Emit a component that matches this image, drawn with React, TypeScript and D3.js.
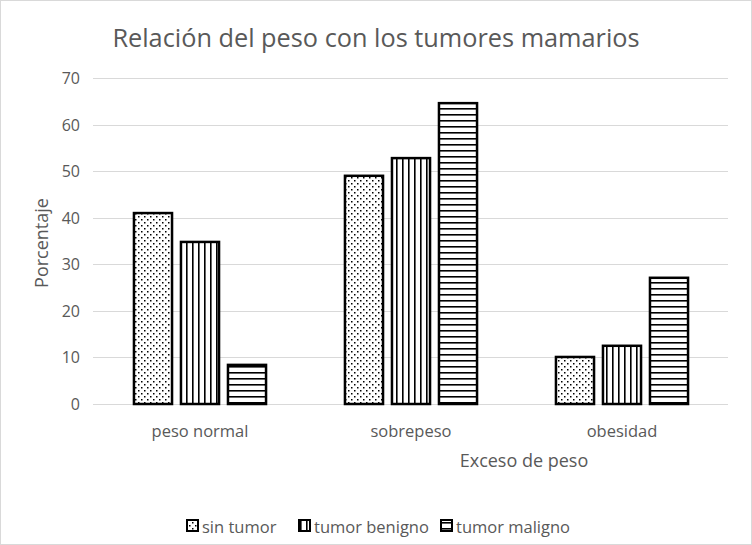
import { useRef, useEffect } from 'react';
import * as d3 from 'd3';

const categories = ['peso normal', 'sobrepeso', 'obesidad'];
const seriesNames = ['sin tumor', 'tumor benigno', 'tumor maligno'];
const sinTumor = [41.0, 49.0, 10.1];
const tumorBenigno = [34.8, 52.8, 12.5];
const tumorMaligno = [8.4, 64.6, 27.1];
const yTicks = [0, 10, 20, 30, 40, 50, 60, 70];

const PATTERNS = ['pat-dots', 'pat-vert', 'pat-horz'];
const TEXT = '#595959';
const FONT = "'Open Sans', 'Liberation Sans', sans-serif";

export default function App() {
  const svgRef = useRef<SVGSVGElement>(null);

  useEffect(() => {
    if (!svgRef.current) return;
    const svg = d3.select(svgRef.current);
    svg.selectAll('*').remove();

    const W = 752;
    const H = 545;
    svg.attr('width', W).attr('height', H).style('font-family', FONT);

    svg.append('rect')
      .attr('x', 0.5).attr('y', 0.5)
      .attr('width', W - 1).attr('height', H - 1)
      .attr('fill', '#fff').attr('stroke', '#d9d9d9');

    // patterns
    const defs = svg.append('defs');
    const dots = defs.append('pattern').attr('id', 'pat-dots')
      .attr('patternUnits', 'userSpaceOnUse').attr('width', 6).attr('height', 6);
    dots.append('rect').attr('width', 6).attr('height', 6).attr('fill', '#fff');
    dots.append('rect').attr('x', 0).attr('y', 0).attr('width', 1.5).attr('height', 1.5).attr('fill', '#000');
    dots.append('rect').attr('x', 3).attr('y', 3).attr('width', 1.5).attr('height', 1.5).attr('fill', '#000');

    const vert = defs.append('pattern').attr('id', 'pat-vert')
      .attr('patternUnits', 'userSpaceOnUse').attr('width', 6).attr('height', 6);
    vert.append('rect').attr('width', 6).attr('height', 6).attr('fill', '#fff');
    vert.append('rect').attr('x', 0).attr('y', 0).attr('width', 1.6).attr('height', 6).attr('fill', '#000');

    const horz = defs.append('pattern').attr('id', 'pat-horz')
      .attr('patternUnits', 'userSpaceOnUse').attr('width', 6).attr('height', 6);
    horz.append('rect').attr('width', 6).attr('height', 6).attr('fill', '#fff');
    horz.append('rect').attr('x', 0).attr('y', 0).attr('width', 6).attr('height', 1.6).attr('fill', '#000');

    const left = 93;
    const right = 728;
    const top = 78;
    const bottom = 404;

    const y = d3.scaleLinear().domain([0, 70]).range([bottom, top]);
    const x0 = d3.scaleBand().domain(categories).range([94.5, 727.5]).paddingInner(0.374).paddingOuter(0.187);
    const x1 = d3.scaleBand().domain(seriesNames).range([0, x0.bandwidth()]).paddingInner(0.19);

    // grid
    svg.append('g').selectAll('line').data(yTicks).join('line')
      .attr('x1', left).attr('x2', right)
      .attr('y1', (d) => Math.round(y(d)) + 0.5)
      .attr('y2', (d) => Math.round(y(d)) + 0.5)
      .attr('stroke', '#d9d9d9').attr('stroke-width', 1);

    svg.append('g').selectAll('text').data(yTicks).join('text')
      .attr('x', 80).attr('y', (d) => y(d))
      .attr('text-anchor', 'end').attr('dominant-baseline', 'central')
      .attr('fill', TEXT).attr('font-size', 16)
      .text((d) => d);

    const values = [sinTumor, tumorBenigno, tumorMaligno];
    seriesNames.forEach((s, si) => {
      svg.append('g').selectAll('rect').data(categories).join('rect')
        .attr('x', (c) => (x0(c) ?? 0) + (x1(s) ?? 0))
        .attr('y', (_c, ci) => y(values[si][ci]))
        .attr('width', x1.bandwidth())
        .attr('height', (_c, ci) => bottom - y(values[si][ci]))
        .attr('fill', `url(#${PATTERNS[si]})`)
        .attr('stroke', '#000').attr('stroke-width', 2.5);
    });

    svg.append('g').selectAll('text').data(categories).join('text')
      .attr('x', (c) => (x0(c) ?? 0) + x0.bandwidth() / 2)
      .attr('y', 430).attr('text-anchor', 'middle').attr('dominant-baseline', 'central')
      .attr('fill', TEXT).attr('font-size', 16.5)
      .text((c) => c);

    svg.append('text').attr('x', 524).attr('y', 460)
      .attr('text-anchor', 'middle').attr('dominant-baseline', 'central')
      .attr('fill', TEXT).attr('font-size', 18).text('Exceso de peso');

    svg.append('text')
      .attr('transform', `translate(41,243) rotate(-90)`)
      .attr('text-anchor', 'middle').attr('dominant-baseline', 'central')
      .attr('fill', TEXT).attr('font-size', 18).text('Porcentaje');

    svg.append('text').attr('x', 376).attr('y', 37)
      .attr('text-anchor', 'middle').attr('dominant-baseline', 'central')
      .attr('fill', TEXT).attr('font-size', 25.3).text('Relación del peso con los tumores mamarios');

    // legend
    const legendX = [187, 299, 441];
    seriesNames.forEach((s, i) => {
      svg.append('rect')
        .attr('x', legendX[i]).attr('y', 520)
        .attr('width', 11).attr('height', 11)
        .attr('fill', `url(#${PATTERNS[i]})`).attr('stroke', '#000').attr('stroke-width', 2);
      svg.append('text')
        .attr('x', legendX[i] + 15).attr('y', 526)
        .attr('dominant-baseline', 'central')
        .attr('fill', TEXT).attr('font-size', 16.5).text(s);
    });
  }, []);

  return (
    <div style={{ position: 'absolute', left: 0, top: 0 }}>
      <svg ref={svgRef} />
    </div>
  );
}
